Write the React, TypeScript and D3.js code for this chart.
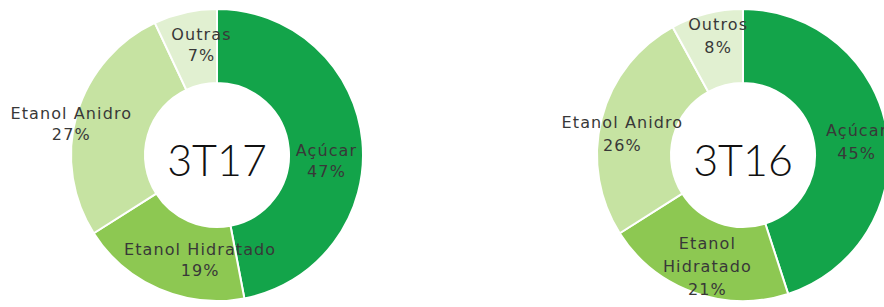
import * as d3 from "d3";

// 3T17
const labels3T17 = ["Açúcar", "Etanol Hidratado", "Etanol Anidro", "Outras"];
const pct3T17 = [47, 19, 27, 7];
// 3T16
const labels3T16 = ["Açúcar", "Etanol\nHidratado", "Etanol Anidro", "Outros"];
const pct3T16 = [45, 21, 26, 8];

const sliceColors = ["#13a44a", "#8dc852", "#c6e3a2", "#e1f0d1"];

// manual nudges of the labels from the slice centroid (as placed in the slide)
const nudge3T17 = [[2, 16], [26, 5], [-42, -1], [8, -5]];
const nudge3T16 = [[7, 3], [1, 9], [-16, 5], [2, -15]];

const W = 884, H = 307;
const outerR = 146, innerR = 72;

function Donut({ cx, cy, title, labels, values, nudges, lineH }) {
  const pie = d3.pie<number>().sort(null).value(d => d);
  const arc = d3.arc<d3.PieArcDatum<number>>().innerRadius(innerR).outerRadius(outerR);
  const labelArc = d3.arc<d3.PieArcDatum<number>>().innerRadius(108).outerRadius(108);
  const arcs = pie(values);

  return (
    <g transform={`translate(${cx},${cy})`}>
      {arcs.map((a, i) => (
        <path key={i} d={arc(a) || ""} fill={sliceColors[i]} stroke="#fff" strokeWidth={2} />
      ))}
      {arcs.map((a, i) => {
        const [x, y] = labelArc.centroid(a);
        const lines = labels[i].split("\n").concat([values[i] + "%"]);
        const x0 = x + nudges[i][0];
        const y0 = y + nudges[i][1] - ((lines.length - 1) * lineH) / 2;
        return (
          <text key={"t" + i} x={x0} y={y0} textAnchor="middle" dominantBaseline="central"
            fontFamily="'DejaVu Sans', sans-serif" fontSize={16} letterSpacing={1.1} fill="#383838">
            {lines.map((l, j) => (
              <tspan key={j} x={x0} y={y0 + j * lineH}>{l}</tspan>
            ))}
          </text>
        );
      })}
      <text x={0} y={4} textAnchor="middle" dominantBaseline="central"
        fontFamily="Lato, sans-serif" fontWeight={300} fontSize={43} fill="#111">
        {title}
      </text>
    </g>
  );
}

export default function App() {
  return (
    <div style={{ position: "absolute", left: 0, top: 0 }}>
      <svg width={W} height={H} style={{ display: "block", background: "#fff" }}>
        <Donut cx={217} cy={155} title="3T17" labels={labels3T17} values={pct3T17} nudges={nudge3T17} lineH={21} />
        <Donut cx={743} cy={155} title="3T16" labels={labels3T16} values={pct3T16} nudges={nudge3T16} lineH={23} />
      </svg>
    </div>
  );
}
